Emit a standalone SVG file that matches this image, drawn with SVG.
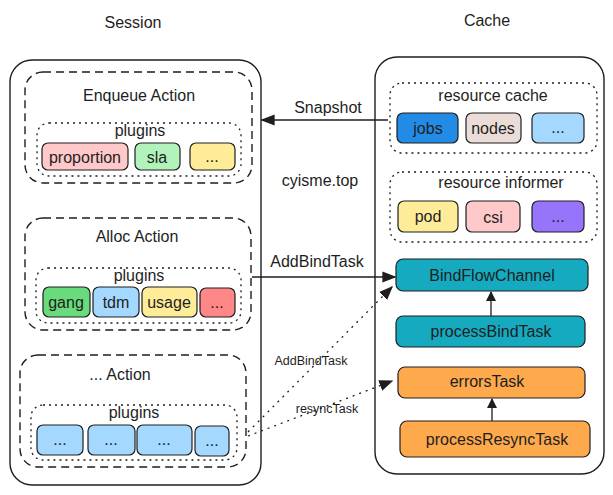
<svg xmlns="http://www.w3.org/2000/svg" width="613" height="495" viewBox="0 0 613 495">
<style>
text{font-family:"Liberation Sans",Arial,sans-serif;fill:#1e1e1e;text-anchor:middle;dominant-baseline:central}
.t{font-size:16px}
.s{font-size:12.5px}
.outer{fill:none;stroke:#1e1e1e;stroke-width:1.4}
.dash{fill:none;stroke:#1e1e1e;stroke-width:1.4;stroke-dasharray:8 5}
.dot{fill:none;stroke:#1e1e1e;stroke-width:1.3;stroke-dasharray:2 4}
.box{stroke:#1e1e1e;stroke-width:1.2}
.ln{fill:none;stroke:#1e1e1e;stroke-width:1.3}
.dl{fill:none;stroke:#1e1e1e;stroke-width:1.3;stroke-dasharray:2 5}
</style>
<defs>
<marker id="ah" viewBox="0 0 10 10" refX="9" refY="5" markerWidth="10" markerHeight="10" markerUnits="userSpaceOnUse" orient="auto"><path d="M0,0 L10,5 L0,10 z" fill="#1e1e1e"/></marker>
<marker id="ahb" viewBox="0 0 10 10" refX="9" refY="5" markerWidth="14" markerHeight="14" markerUnits="userSpaceOnUse" orient="auto"><path d="M0,1 L10,5 L0,9 z" fill="#1e1e1e"/></marker>
</defs>
<rect width="613" height="495" fill="#ffffff"/>
<text class="t" x="133" y="22">Session</text>
<text class="t" x="487" y="20">Cache</text>

<g id="session">
<rect class="outer" x="10" y="60" width="251" height="425" rx="22"/>
</g>
<g id="enqueue-action">
<rect class="dash" x="25" y="72" width="227" height="111" rx="18"/>
<text class="t" x="139" y="95">Enqueue Action</text>
<rect class="dot" x="37" y="123" width="204" height="53" rx="12"/>
<text class="t" x="140" y="130">plugins</text>
<g id="proportion"><rect class="box" x="42" y="143" width="86" height="27" rx="6" fill="#ffc9c9"/><text class="t" x="85" y="157">proportion</text></g>
<g id="sla"><rect class="box" x="135" y="143" width="45" height="27" rx="6" fill="#b2f2bb"/><text class="t" x="157" y="157">sla</text></g>
<g id="enq-more"><rect class="box" x="190" y="143" width="45" height="27" rx="6" fill="#ffec99"/><text class="t" x="212" y="156">...</text></g>
</g>
<g id="alloc-action">
<rect class="dash" x="25" y="218" width="226" height="112" rx="18"/>
<text class="t" x="137" y="236">Alloc Action</text>
<rect class="dot" x="36" y="268" width="205" height="55" rx="12"/>
<text class="t" x="139" y="275">plugins</text>
<g id="gang"><rect class="box" x="43" y="287" width="47" height="30" rx="6" fill="#69db7c"/><text class="t" x="66" y="302">gang</text></g>
<g id="tdm"><rect class="box" x="93" y="287" width="46" height="30" rx="6" fill="#a5d8ff"/><text class="t" x="116" y="302">tdm</text></g>
<g id="usage"><rect class="box" x="142" y="287" width="55" height="30" rx="6" fill="#ffec99"/><text class="t" x="169" y="302">usage</text></g>
<g id="alloc-more"><rect class="box" x="200" y="288" width="35" height="29" rx="6" fill="#ff8787"/><text class="t" x="217" y="302">...</text></g>
</g>
<g id="other-action">
<rect class="dash" x="20" y="355" width="226" height="112" rx="18"/>
<text class="t" x="120" y="374">... Action</text>
<rect class="dot" x="31" y="405" width="206" height="55" rx="12"/>
<text class="t" x="134" y="412">plugins</text>
<g id="p1"><rect class="box" x="37" y="425" width="46" height="30" rx="6" fill="#a5d8ff"/><text class="t" x="60" y="439">...</text></g>
<g id="p2"><rect class="box" x="88" y="425" width="47" height="30" rx="6" fill="#a5d8ff"/><text class="t" x="111" y="439">...</text></g>
<g id="p3"><rect class="box" x="137" y="425" width="55" height="30" rx="6" fill="#a5d8ff"/><text class="t" x="164" y="439">...</text></g>
<g id="p4"><rect class="box" x="195" y="426" width="34" height="30" rx="6" fill="#a5d8ff"/><text class="t" x="212" y="440">...</text></g>
</g>

<g id="cache">
<rect class="outer" x="375" y="57" width="229" height="417" rx="22"/>
</g>
<g id="resource-cache">
<rect class="dot" x="390" y="83" width="207" height="70" rx="12"/>
<text class="t" x="493" y="95">resource cache</text>
<g id="jobs"><rect class="box" x="397" y="113" width="61" height="30" rx="6" fill="#228be6"/><text class="t" x="428" y="128">jobs</text></g>
<g id="nodes"><rect class="box" x="466" y="113" width="55" height="30" rx="6" fill="#eaddd7"/><text class="t" x="493" y="128">nodes</text></g>
<g id="cache-more"><rect class="box" x="532" y="113" width="52" height="30" rx="6" fill="#a5d8ff"/><text class="t" x="558" y="127">...</text></g>
</g>
<g id="resource-informer">
<rect class="dot" x="390" y="172" width="207" height="70" rx="12"/>
<text class="t" x="501" y="182">resource informer</text>
<g id="pod"><rect class="box" x="398" y="201" width="60" height="31" rx="6" fill="#ffec99"/><text class="t" x="428" y="216">pod</text></g>
<g id="csi"><rect class="box" x="466" y="201" width="54" height="31" rx="6" fill="#ffc9c9"/><text class="t" x="493" y="217">csi</text></g>
<g id="informer-more"><rect class="box" x="532" y="201" width="52" height="31" rx="6" fill="#9775fa"/><text class="t" x="558" y="216">...</text></g>
</g>
<g id="bindflowchannel"><rect class="box" x="396" y="259" width="192" height="32" rx="7" fill="#15aabf"/><text class="t" x="492" y="275">BindFlowChannel</text></g>
<g id="processbindtask"><rect class="box" x="396" y="316" width="189" height="31" rx="7" fill="#15aabf"/><text class="t" x="491" y="331">processBindTask</text></g>
<g id="errorstask"><rect class="box" x="398" y="367" width="187" height="31" rx="7" fill="#ffa94d"/><text class="t" x="487" y="381">errorsTask</text></g>
<g id="processresynctask"><rect class="box" x="400" y="421" width="190" height="36" rx="7" fill="#ffa94d"/><text class="t" x="497" y="439">processResyncTask</text></g>

<g id="connectors">
<line class="ln" x1="388" y1="120" x2="262" y2="120" marker-end="url(#ahb)"/>
<text class="t" x="328" y="107">Snapshot</text>
<line class="ln" x1="252" y1="277" x2="395" y2="277" marker-end="url(#ahb)"/>
<text class="t" x="317" y="261">AddBindTask</text>
<line class="ln" x1="491" y1="316" x2="491" y2="292" marker-end="url(#ah)"/>
<line class="ln" x1="492" y1="421" x2="492" y2="399" marker-end="url(#ah)"/>
<line class="dl" x1="248" y1="432" x2="392" y2="287" marker-end="url(#ahb)"/>
<text class="s" x="311" y="361">AddBindTask</text>
<line class="dl" x1="248" y1="436" x2="392" y2="381" marker-end="url(#ahb)"/>
<text class="s" x="327" y="409">resyncTask</text>
<text class="t" x="320" y="180">cyisme.top</text>
</g>
</svg>
